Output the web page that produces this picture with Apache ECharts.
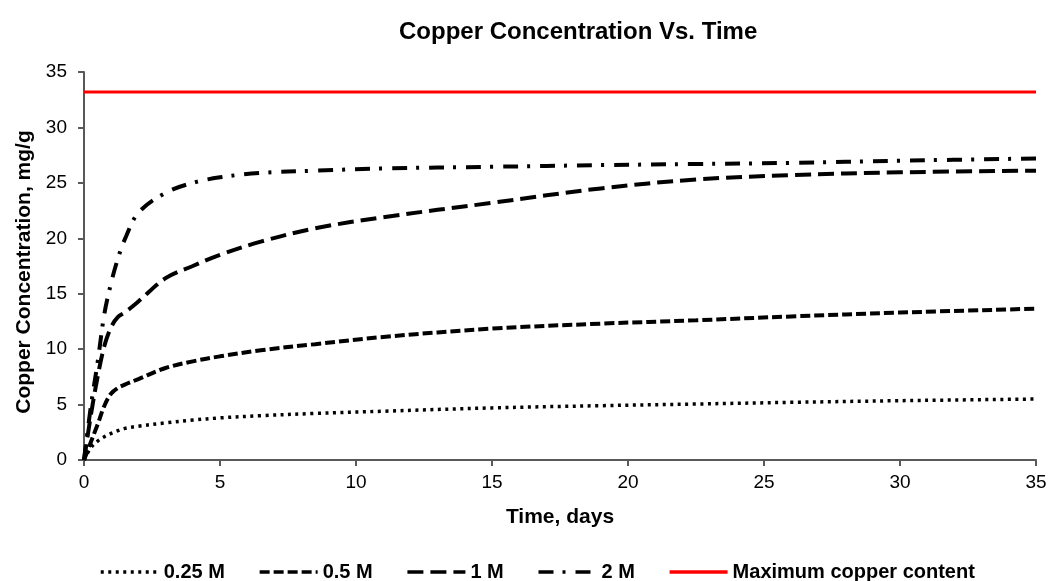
<!DOCTYPE html>
<html>
<head>
<meta charset="utf-8">
<script src="https://cdn.jsdelivr.net/npm/echarts@6/dist/echarts.min.js"></script>
<style>
  html, body { margin: 0; padding: 0; background: #fff; }
  #chart { width: 1061px; height: 581px; }
</style>
</head>
<body>
<div id="chart"></div>
<script>
// Sampling times (days) shared by all leaching curves
const timeDays = [0, 0.25, 0.5, 0.75, 1, 1.25, 1.5, 2, 3, 4, 5, 6.5, 8.5, 11, 15, 19, 22.5, 26, 30, 35];

// Copper concentration (mg/g) for each acid strength
const conc025M = [0, 1.1, 1.7, 2.1, 2.4, 2.65, 2.85, 3.05, 3.35, 3.6, 3.8, 4.0, 4.2, 4.4, 4.7, 4.9, 5.05, 5.2, 5.35, 5.5];
const conc05M  = [0, 1.6, 3.2, 4.9, 6.0, 6.5, 6.8, 7.3, 8.3, 8.9, 9.35, 9.9, 10.45, 11.1, 11.85, 12.3, 12.6, 12.95, 13.3, 13.65];
const conc1M   = [0, 4.0, 7.5, 10.3, 12.0, 12.9, 13.3, 14.3, 16.4, 17.5, 18.5, 19.7, 20.9, 21.9, 23.2, 24.5, 25.3, 25.7, 25.95, 26.1];
const conc2M   = [0, 4.8, 8.8, 13.2, 16.0, 18.2, 19.9, 22.3, 24.1, 25.0, 25.5, 25.9, 26.1, 26.3, 26.45, 26.6, 26.7, 26.8, 27.0, 27.2];

// Total copper available in the sample (mg/g)
const maxCopper = 33.2;
const maxCopperTimes = [0, 35];

const seriesNames = ['0.25 M', '0.5 M', '1 M', '2 M', 'Maximum copper content'];
const axisTicks = [0, 5, 10, 15, 20, 25, 30, 35];

const pairs = (xs, ys) => xs.map((x, i) => [x, ys[i]]);

const font = 'Liberation Sans, Arial, sans-serif';
const axisColor = '#595959';

const chart = echarts.init(document.getElementById('chart'), null, { renderer: 'canvas' });

const curve = (name, values, dash, width) => ({
  name,
  type: 'line',
  data: pairs(timeDays, values),
  smooth: 0.35,
  showSymbol: false,
  symbol: 'none',
  lineStyle: { color: '#000', width: width, type: dash, cap: 'butt' },
  itemStyle: { color: '#000' },
  z: 3
});

chart.setOption({
  animation: false,
  backgroundColor: '#fff',
  title: {
    text: 'Copper Concentration Vs. Time',
    left: 394,
    top: 15,
    textStyle: { fontFamily: font, fontSize: 24, fontWeight: 'bold', color: '#000' }
  },
  grid: { left: 84, right: 25, top: 72, bottom: 121, containLabel: false },
  xAxis: {
    type: 'value',
    min: axisTicks[0],
    max: axisTicks[axisTicks.length - 1],
    interval: 5,
    name: 'Time, days',
    nameLocation: 'middle',
    nameGap: 47,
    nameTextStyle: { fontFamily: font, fontSize: 21, fontWeight: 'bold', color: '#000' },
    axisLine: { show: true, onZero: false, lineStyle: { color: axisColor, width: 2 } },
    axisTick: { show: true, inside: false, length: 6, lineStyle: { color: axisColor, width: 2 } },
    axisLabel: { fontFamily: font, fontSize: 19, color: '#000', margin: 13 },
    splitLine: { show: false }
  },
  yAxis: {
    type: 'value',
    min: axisTicks[0],
    max: axisTicks[axisTicks.length - 1],
    interval: 5,
    name: 'Copper Concentration, mg/g',
    nameLocation: 'middle',
    nameGap: 48,
    nameRotate: 90,
    nameTextStyle: { fontFamily: font, fontSize: 21, fontWeight: 'bold', color: '#000', padding: [0, 12, 0, 0] },
    axisLine: { show: true, onZero: false, lineStyle: { color: axisColor, width: 2 } },
    axisTick: { show: true, inside: false, length: 6, lineStyle: { color: axisColor, width: 2 } },
    axisLabel: { fontFamily: font, fontSize: 19, color: '#000', margin: 17 },
    splitLine: { show: false }
  },
  legend: {
    data: seriesNames,
    left: 99,
    top: 562,
    padding: 0,
    itemWidth: 58,
    itemHeight: 14,
    itemGap: 33,
    itemStyle: { opacity: 0, borderWidth: 0 },
    lineStyle: { width: 3.5 },
    textStyle: { fontFamily: font, fontSize: 20, fontWeight: 'bold', color: '#000' }
  },
  series: [
    curve(seriesNames[0], conc025M, [3, 4.5], 3.5),
    curve(seriesNames[1], conc05M, [10, 4], 4),
    curve(seriesNames[2], conc1M, [16, 7], 4),
    curve(seriesNames[3], conc2M, [15, 9, 3, 10], 4),
    {
      name: seriesNames[4],
      type: 'line',
      data: maxCopperTimes.map(t => [t, maxCopper]),
      showSymbol: false,
      symbol: 'none',
      lineStyle: { color: '#ff0000', width: 3, type: 'solid' },
      itemStyle: { color: '#ff0000' },
      z: 4
    }
  ]
});
</script>
</body>
</html>
